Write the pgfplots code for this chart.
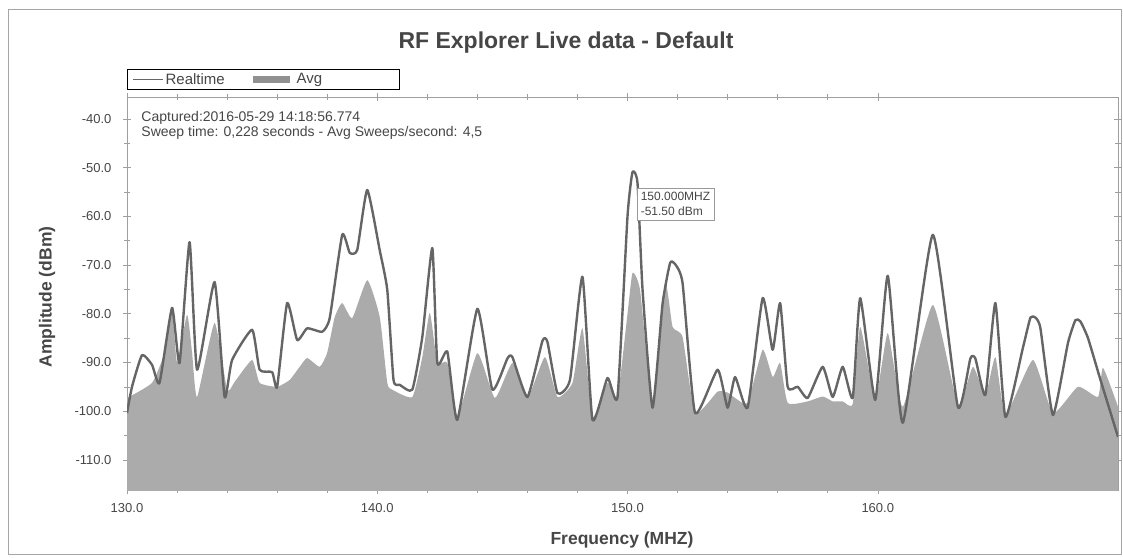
\documentclass[border=0pt]{standalone}
\usepackage{pgfplots}
\pgfplotsset{compat=1.18}
\usepackage{fontspec}
\setmainfont{Liberation Sans}
\definecolor{avgfill}{HTML}{ABABAB}
\definecolor{rtline}{HTML}{656565}
\definecolor{txt}{HTML}{464646}

\pgfplotstableread{
f db
130.0 -100.4
130.2 -95
130.6 -88.5
131.0 -90.5
131.3 -94.2
131.8 -78.8
132.1 -90.1
132.5 -65.3
132.8 -91.5
133.5 -73.5
133.9 -97.1
134.2 -89.5
135.0 -83.3
135.3 -91.5
135.8 -92
136.0 -95
136.4 -77.8
136.8 -85.4
137.2 -83
137.8 -83.7
138.1 -80.9
138.6 -63.8
138.9 -67.5
139.2 -66.9
139.6 -54.6
140.1 -67
140.4 -75.1
140.65 -93.6
140.9 -94.6
141.4 -95.6
141.8 -84.8
142.2 -66.5
142.4 -90.1
142.8 -87.8
143.2 -101.8
144.0 -79.0
144.6 -95.6
145.2 -89.2
145.4 -88.9
146.0 -97.1
146.6 -85.6
146.8 -85.8
147.2 -96.3
147.7 -93.6
148.2 -72.4
148.6 -101.8
149.2 -93.2
149.6 -97.1
150.0 -60
150.2 -50.9
150.4 -53.2
150.6 -75
151.0 -99.3
151.4 -78
151.7 -69.6
151.9 -69.8
152.2 -73.7
152.7 -100.4
153.6 -91.5
154.0 -99.3
154.3 -93
154.8 -99.3
155.4 -76.8
155.8 -87.4
156.1 -77.8
156.4 -95
156.8 -95
157.2 -97.3
157.8 -90.9
158.2 -97.1
158.6 -90.9
159.0 -97.3
159.3 -76.8
159.9 -97.7
160.4 -72.2
161.0 -102.4
162.2 -63.8
163.2 -99.1
163.7 -89.2
163.9 -89.2
164.3 -96.7
164.7 -77.8
165.1 -101.2
165.8 -87
166.1 -80.8
166.3 -80.8
166.5 -83
167.0 -100.8
167.6 -86
167.9 -81.3
168.1 -81.6
168.4 -85
168.9 -93.6
169.6 -105.3
}\rtdata

\pgfplotstableread{
f db
130.0 -97.3
131.0 -94.2
131.5 -88
131.8 -79.2
132.0 -90
132.4 -80.2
132.6 -88
132.8 -97.1
133.5 -81.9
134.0 -95.6
134.3 -94
135.0 -89.5
135.3 -94.2
136.0 -95
136.5 -93.6
136.9 -90.9
137.2 -89.1
137.7 -90.9
138.0 -88
138.3 -80.7
138.6 -77.8
139.0 -80.9
139.6 -73.1
140.1 -80.7
140.4 -94.2
140.6 -95.6
141.4 -97.1
141.8 -88.9
142.1 -79.8
142.4 -90.1
142.8 -90.1
143.2 -101.2
144.0 -88.1
144.7 -97.3
145.4 -90.1
146.0 -97.3
146.7 -88.9
147.2 -97.1
147.8 -94.2
148.2 -83
148.6 -101.2
149.2 -94.2
149.6 -97.1
150.0 -80
150.2 -71.6
150.5 -75.1
151.0 -98.3
151.5 -73.7
151.8 -82.7
152.2 -84.8
152.7 -100.4
153.6 -96
154.0 -96.2
154.3 -97.3
154.8 -98.3
155.4 -87.4
155.8 -93
156.1 -90.1
156.4 -98.3
157.2 -98
157.8 -97
158.2 -98
158.6 -98
159.0 -98.5
159.3 -82.7
159.9 -97.7
160.4 -84
161.0 -99.1
162.2 -78.2
163.2 -98.7
163.8 -90.9
164.3 -96.7
164.7 -88.9
165.1 -100.8
166.2 -89.5
167.0 -100.4
168.0 -95
168.8 -97.1
169.0 -91.1
169.6 -99.1
}\avgdata

\begin{document}
\begin{tikzpicture}[x=1pt,y=1pt]
\path[use as bounding box] (0,0) rectangle (1123,557);
\draw[gray!70, line width=1pt] (8,3) rectangle (1121,547);
\node[font=\fontsize{23}{27}\selectfont\bfseries, text=txt] at (566,514) {RF Explorer Live data - Default};
\begin{axis}[
  at={(127pt,67pt)}, anchor=south west,
  width=991pt, height=393pt, scale only axis,
  xmin=130, xmax=169.6, ymin=-116.2, ymax=-35.5,
  axis line style={gray!75, line width=0.6pt},
  tick style={gray!75, line width=0.5pt},
  tick align=center,
  major tick length=8pt, minor tick length=6pt,
  xtick={130,140,150,160},
  minor x tick num=4,
  ytick={-110,-100,...,-40},
  minor y tick num=1,
  /pgf/number format/assume math mode=true,
  /pgf/number format/fixed, /pgf/number format/fixed zerofill, /pgf/number format/precision=1,
  ticklabel style={font=\fontsize{13}{15}\selectfont, text=txt},
  yticklabel style={xshift=-8pt},
  xticklabel style={yshift=-6pt},
  xlabel={Frequency (MHZ)}, ylabel={Amplitude (dBm)},
  every axis x label/.style={at={(axis description cs:0.4995,-0.127)}, anchor=center, font=\fontsize{17.5}{20}\selectfont\bfseries, text=txt},
  every axis y label/.style={at={(axis description cs:-0.0807,0.491)}, rotate=90, anchor=center, font=\fontsize{17.5}{20}\selectfont\bfseries, text=txt},
  legend style={at={(axis description cs:0,1)}, anchor=south west, yshift=7pt,
    draw=black, line width=0.8pt, font=\fontsize{15}{17}\selectfont, text=txt,
    legend columns=2, inner xsep=5pt, inner ysep=2pt},
  clip=true,
]
\addlegendimage{legend image code/.code={\draw[rtline, line width=1.2pt] (0pt,0pt) -- (30pt,0pt);}}
\addlegendentry{Realtime\hspace*{26pt}}
\addlegendimage{legend image code/.code={\fill[avgfill!85!black] (0pt,-3pt) rectangle (36pt,3pt);}}
\addlegendentry{\hspace*{5pt}Avg\hspace*{70pt}}

\addplot[fill=avgfill, draw=none, smooth, tension=0.3, forget plot] table[x=f, y=db] {\avgdata} |- (axis cs:130,-120) -- cycle;
\addplot[rtline, line width=2.4pt, line join=round, smooth, tension=0.3, forget plot] table[x=f, y=db] {\rtdata};

\node[anchor=west, font=\fontsize{14}{16}\selectfont, text=txt] at (axis description cs:0.011,0.948) {Captured:2016-05-29 14:18:56.774};
\node[anchor=west, font=\fontsize{14}{16}\selectfont, text=txt] at (axis description cs:0.011,0.909) {Sweep time: 0,228 seconds - Avg Sweeps/second: 4,5};
\node[anchor=north west, draw=gray!80, fill=white, line width=0.6pt, align=left, inner sep=4pt, font=\fontsize{12}{15}\selectfont, text=txt] at (axis cs:150.36,-54.2) {150.000MHZ\\-51.50 dBm};
\end{axis}
\end{tikzpicture}
\end{document}
